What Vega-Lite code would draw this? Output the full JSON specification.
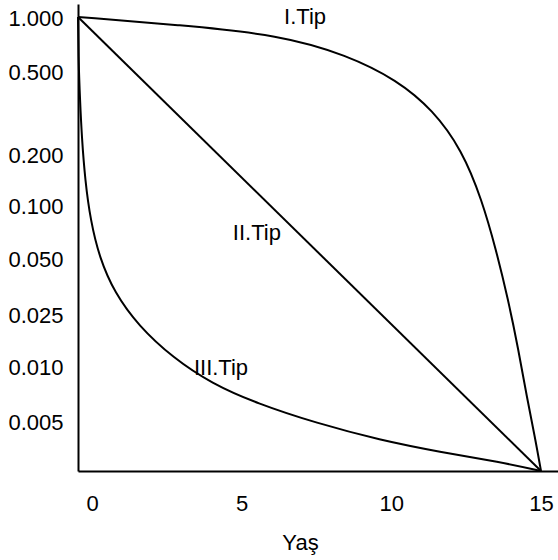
{
  "$schema": "https://vega.github.io/schema/vega-lite/v6.json",
  "width": 480,
  "height": 467,
  "autosize": {"type": "none"},
  "padding": {"left": 78, "top": 4, "right": 0, "bottom": 89},
  "background": "white",
  "config": {
    "view": {"stroke": null},
    "font": "Liberation Sans",
    "axis": {"labelFont": "Liberation Sans", "titleFont": "Liberation Sans", "labelColor": "black", "titleColor": "black", "domainColor": "black", "domainWidth": 2, "ticks": false, "grid": false, "labelFontSize": 22, "titleFontSize": 22, "titleFontWeight": "normal"}
  },
  "datasets": {
    "curves": [
      {"tip": "I", "x": -0.468, "h": 8.551},
      {"tip": "I", "x": 2.940, "h": 8.402},
      {"tip": "I", "x": 6.281, "h": 8.215},
      {"tip": "I", "x": 8.520, "h": 7.841},
      {"tip": "I", "x": 10.190, "h": 7.374},
      {"tip": "I", "x": 11.393, "h": 6.813},
      {"tip": "I", "x": 12.362, "h": 6.065},
      {"tip": "I", "x": 13.030, "h": 5.131},
      {"tip": "I", "x": 13.500, "h": 4.200},
      {"tip": "I", "x": 13.900, "h": 3.280},
      {"tip": "I", "x": 14.250, "h": 2.327},
      {"tip": "I", "x": 14.534, "h": 1.430},
      {"tip": "I", "x": 14.800, "h": 0.700},
      {"tip": "I", "x": 15.002, "h": 0.065},
      {"tip": "II", "x": -0.468, "h": 8.551},
      {"tip": "II", "x": 15.002, "h": 0.065},
      {"tip": "III", "x": -0.468, "h": 8.551},
      {"tip": "III", "x": -0.451, "h": 7.748},
      {"tip": "III", "x": -0.401, "h": 7.000},
      {"tip": "III", "x": -0.340, "h": 6.300},
      {"tip": "III", "x": -0.230, "h": 5.500},
      {"tip": "III", "x": -0.050, "h": 4.750},
      {"tip": "III", "x": 0.250, "h": 4.050},
      {"tip": "III", "x": 0.750, "h": 3.400},
      {"tip": "III", "x": 1.550, "h": 2.780},
      {"tip": "III", "x": 2.706, "h": 2.180},
      {"tip": "III", "x": 4.000, "h": 1.700},
      {"tip": "III", "x": 5.500, "h": 1.330},
      {"tip": "III", "x": 7.500, "h": 0.960},
      {"tip": "III", "x": 9.622, "h": 0.645},
      {"tip": "III", "x": 11.627, "h": 0.421},
      {"tip": "III", "x": 13.632, "h": 0.234},
      {"tip": "III", "x": 15.002, "h": 0.065}
    ],
    "labels": [
      {"label": "I.Tip", "x": 7.12, "h": 8.55},
      {"label": "II.Tip", "x": 5.51, "h": 4.51},
      {"label": "III.Tip", "x": 4.31, "h": 1.99}
    ]
  },
  "layer": [
    {
      "data": {"name": "curves"},
      "mark": {"type": "line", "color": "black", "strokeWidth": 2, "interpolate": "basis"},
      "encoding": {
        "detail": {"field": "tip", "type": "nominal"},
        "x": {"field": "x", "type": "quantitative", "scale": {"domain": [-0.468, 15.57], "nice": false, "zero": false},
              "axis": {"values": [0, 5, 10, 15], "labelPadding": 22, "title": "Yaş", "titleX": 222, "titleY": 61, "titleBaseline": "top", "titleAnchor": null, "titleAlign": "center"}},
        "y": {"field": "h", "type": "quantitative", "scale": {"domain": [0.0654, 8.794], "nice": false, "zero": false},
              "axis": {"values": [0.981, 2.009, 2.98, 4.01, 5.0, 5.97, 7.52, 8.53], "labelPadding": 15, "title": null,
                       "labelExpr": "datum.value < 1.5 ? '0.005' : datum.value < 2.5 ? '0.010' : datum.value < 3.5 ? '0.025' : datum.value < 4.5 ? '0.050' : datum.value < 5.5 ? '0.100' : datum.value < 7 ? '0.200' : datum.value < 8 ? '0.500' : '1.000'"}}
      }
    },
    {
      "data": {"name": "labels"},
      "mark": {"type": "text", "fontSize": 22, "font": "Liberation Sans", "color": "black", "baseline": "middle", "align": "center"},
      "encoding": {
        "x": {"field": "x", "type": "quantitative"},
        "y": {"field": "h", "type": "quantitative"},
        "text": {"field": "label", "type": "nominal"}
      }
    }
  ]
}
